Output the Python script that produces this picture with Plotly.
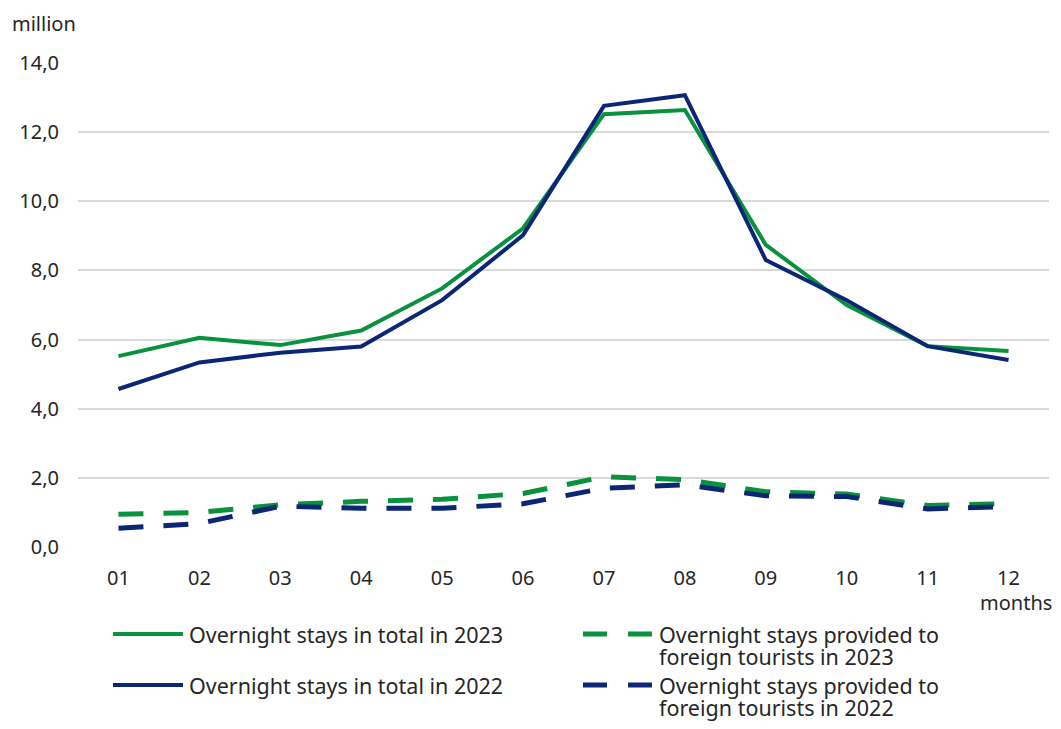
import plotly.graph_objects as go

months = ["01", "02", "03", "04", "05", "06", "07", "08", "09", "10", "11", "12"]
total_2023 = [5.52, 6.05, 5.84, 6.26, 7.48, 9.22, 12.52, 12.64, 8.74, 7.00, 5.81, 5.67]
total_2022 = [4.57, 5.34, 5.62, 5.80, 7.14, 9.02, 12.76, 13.07, 8.30, 7.14, 5.81, 5.41]
foreign_2023 = [0.95, 1.00, 1.22, 1.32, 1.38, 1.55, 2.03, 1.95, 1.60, 1.53, 1.20, 1.25]
foreign_2022 = [0.54, 0.68, 1.18, 1.12, 1.12, 1.25, 1.70, 1.80, 1.48, 1.46, 1.10, 1.17]
y_ticks = [0, 2, 4, 6, 8, 10, 12, 14]
series_names = [
    "Overnight stays in total in 2023",
    "Overnight stays provided to<br>foreign tourists in 2023",
    "Overnight stays in total in 2022",
    "Overnight stays provided to<br>foreign tourists in 2022",
]

GREEN = "#08913f"
NAVY = "#0b2674"
TXT = "#262626"
FONT = "Noto Sans, Open Sans, sans-serif"

OFF = 8  # page body margin
W, H = 1061 - 2 * OFF, 729 - 2 * OFF
L, T = 78 - OFF, 63 - OFF
R = W - (1049 - OFF)
B = H - (547 - OFF)
PW, PH = W - L - R, H - T - B


def px(x):
    # x given in window pixels
    return (x - OFF - L) / PW


def py(y):
    return (H - B - (y - OFF)) / PH


fig = go.Figure()
fig.add_trace(go.Scatter(x=months, y=total_2023, mode="lines", name=series_names[0],
                         line=dict(color=GREEN, width=4)))
fig.add_trace(go.Scatter(x=months, y=foreign_2023, mode="lines", name=series_names[1],
                         line=dict(color=GREEN, width=5, dash="25px,20px")))
fig.add_trace(go.Scatter(x=months, y=total_2022, mode="lines", name=series_names[2],
                         line=dict(color=NAVY, width=4)))
fig.add_trace(go.Scatter(x=months, y=foreign_2022, mode="lines", name=series_names[3],
                         line=dict(color=NAVY, width=5, dash="25px,20px")))

# custom legend (symbols + labels)
shapes = []
annotations = []
legend_rows = [
    (113, 634, GREEN, False, series_names[0]),
    (583, 634, GREEN, True, series_names[1]),
    (113, 685, NAVY, False, series_names[2]),
    (583, 685, NAVY, True, series_names[3]),
]
for x0, y0, col, dashed, label in legend_rows:
    if dashed:
        for a, b in [(x0, x0 + 24), (x0 + 45, x0 + 69)]:
            shapes.append(dict(type="line", xref="paper", yref="paper",
                               x0=px(a), x1=px(b), y0=py(y0), y1=py(y0),
                               line=dict(color=col, width=5)))
    else:
        shapes.append(dict(type="line", xref="paper", yref="paper",
                           x0=px(x0), x1=px(x0 + 70), y0=py(y0), y1=py(y0),
                           line=dict(color=col, width=4)))
    for i, part in enumerate(label.split("<br>")):
        annotations.append(dict(text=part, xref="paper", yref="paper",
                                x=px(x0 + 74), y=py(y0 + 22 * i), xanchor="left",
                                yanchor="middle", align="left", showarrow=False,
                                font=dict(family=FONT, size=21.5, color=TXT)))

annotations.append(dict(text="million", xref="paper", yref="paper", x=px(10), y=py(24),
                        xanchor="left", yanchor="middle", showarrow=False,
                        font=dict(size=20, color=TXT)))
annotations.append(dict(text="months", xref="paper", yref="paper", x=px(1054), y=py(602),
                        xanchor="right", yanchor="middle", showarrow=False,
                        font=dict(size=20, color=TXT)))

fig.update_layout(
    width=W, height=H,
    margin=dict(l=L, r=R, t=T, b=B, autoexpand=False),
    paper_bgcolor="white", plot_bgcolor="white",
    separators=", ",
    font=dict(family=FONT, size=20, color=TXT),
    showlegend=False,
    xaxis=dict(range=[-0.5, 11.5], showgrid=False, showline=False, zeroline=False,
               ticks="", tickfont=dict(size=20), ticklabelstandoff=17),
    yaxis=dict(range=[0, 14], tickvals=y_ticks, tickformat=".1f",
               showgrid=True, gridcolor="#d9d9d9", gridwidth=1.5,
               zeroline=False, showline=False, ticks="",
               tickfont=dict(size=20), ticklabelstandoff=18),
    shapes=shapes,
    annotations=annotations,
)

fig.write_html("out.html")
